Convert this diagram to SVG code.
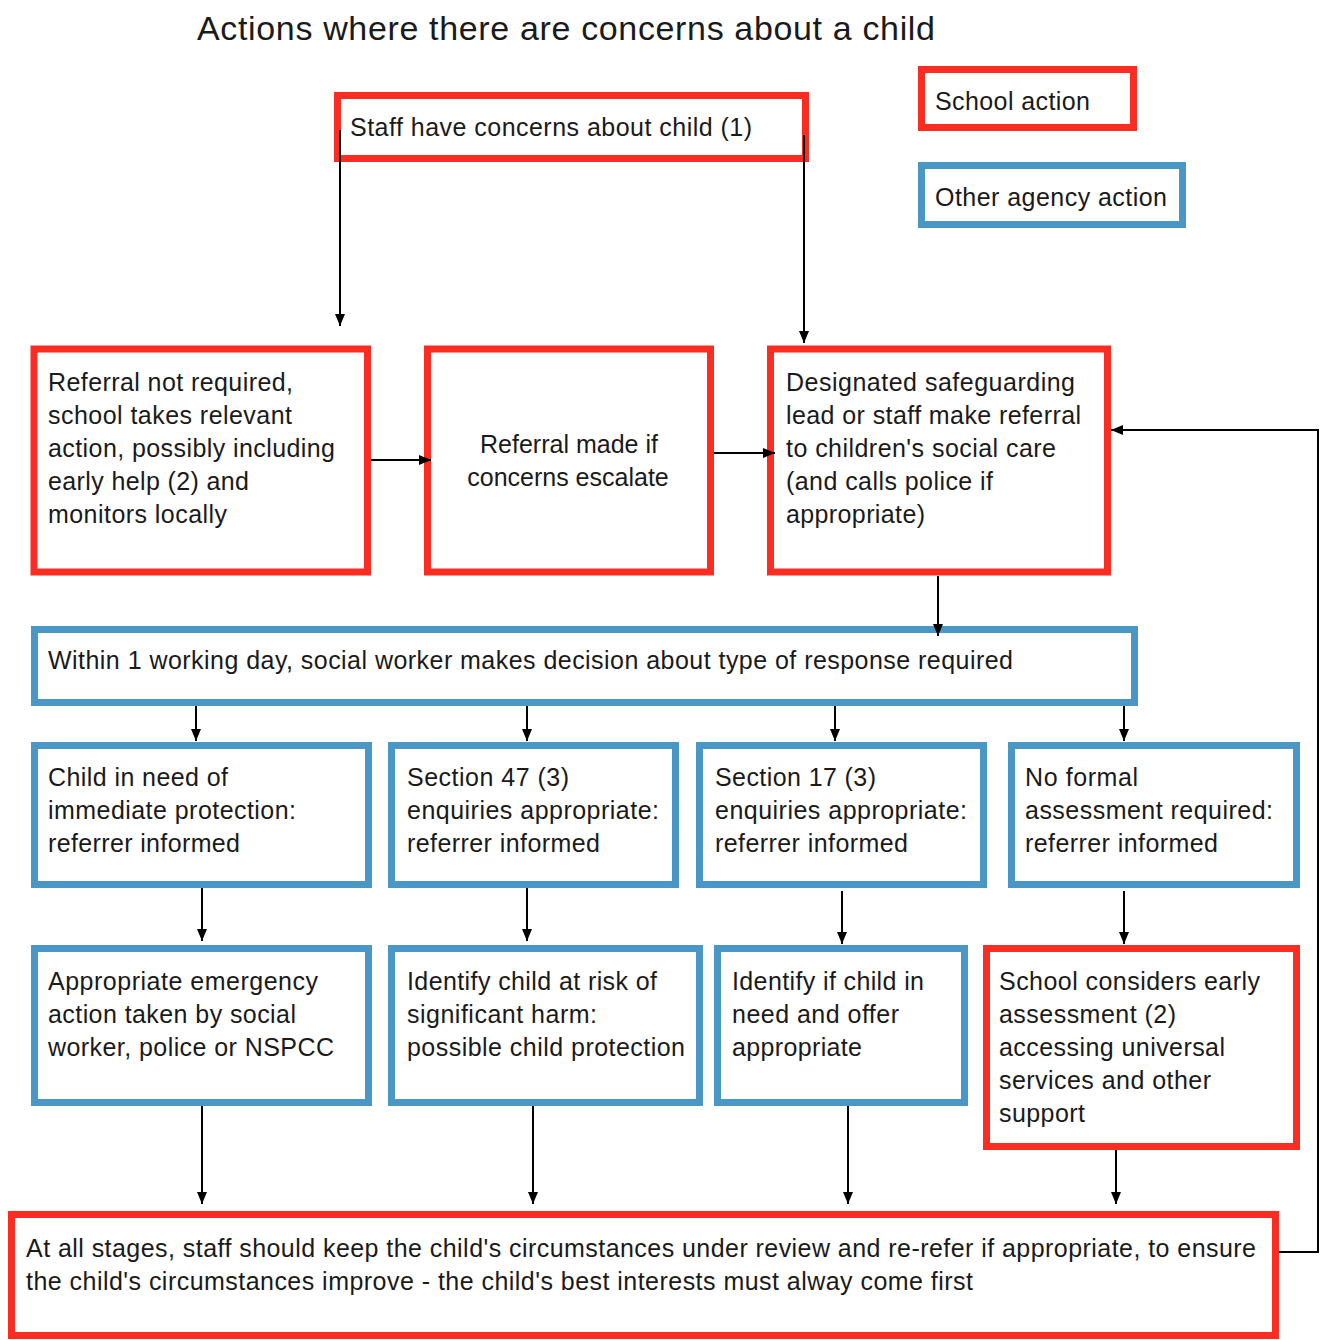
<svg xmlns="http://www.w3.org/2000/svg" width="1324" height="1340" viewBox="0 0 1324 1340">
<style>
.red{fill:#fff;stroke:#fb2c22;stroke-width:7}
.blue{fill:#fff;stroke:#4a97c6;stroke-width:7}
text{font-family:"Liberation Sans",Arial,sans-serif;font-size:25px;fill:#1a1a1a}
.title{font-size:34px}
.mid{text-anchor:middle}
.conn path{fill:none;stroke:#000;stroke-width:2}
</style>
<defs>
<marker id="ah" markerUnits="userSpaceOnUse" markerWidth="12" markerHeight="10" refX="12" refY="5" orient="auto">
<path d="M0,0 L12,5 L0,10 z" fill="#000"/>
</marker>
</defs>
<rect width="1324" height="1340" fill="#fff"/>
<text class="title" x="197" y="40" textLength="738">Actions where there are concerns about a child</text>

<g id="legend-school"><rect class="red" x="921.5" y="69.5" width="212" height="58"/><text x="935" y="110" textLength="155">School action</text></g>
<g id="legend-agency"><rect class="blue" x="921.5" y="165.5" width="261" height="59"/><text x="935" y="206" textLength="232">Other agency action</text></g>

<g id="staff"><rect class="red" x="337.5" y="95.5" width="468" height="63"/><text x="350" y="136" textLength="402">Staff have concerns about child (1)</text></g>

<g id="referral-not-required"><rect class="red" x="34" y="349" width="333.5" height="223"/>
<text x="48" y="391" textLength="245">Referral not required,</text>
<text x="48" y="424" textLength="244">school takes relevant</text>
<text x="48" y="457" textLength="287">action, possibly including</text>
<text x="48" y="490" textLength="201">early help (2) and</text>
<text x="48" y="523" textLength="179">monitors locally</text></g>

<g id="referral-made"><rect class="red" x="427.5" y="349" width="283" height="223"/>
<text class="mid" x="569" y="453">Referral made if</text>
<text class="mid" x="568" y="486">concerns escalate</text></g>

<g id="dsl"><rect class="red" x="770.5" y="349" width="337" height="223"/>
<text x="786" y="391" textLength="289">Designated safeguarding</text>
<text x="786" y="424" textLength="295">lead or staff make referral</text>
<text x="786" y="457" textLength="270">to children's social care</text>
<text x="786" y="490" textLength="207">(and calls police if</text>
<text x="786" y="523" textLength="139">appropriate)</text></g>

<g id="within"><rect class="blue" x="34.5" y="629.5" width="1100" height="73"/>
<text x="48" y="669" textLength="965">Within 1 working day, social worker makes decision about type of response required</text></g>

<g id="immediate"><rect class="blue" x="34.5" y="745.5" width="334" height="139"/>
<text x="48" y="786" textLength="180">Child in need of</text>
<text x="48" y="819" textLength="248">immediate protection:</text>
<text x="48" y="852" textLength="192">referrer informed</text></g>

<g id="s47"><rect class="blue" x="391.5" y="745.5" width="284" height="139"/>
<text x="407" y="786" textLength="162">Section 47 (3)</text>
<text x="407" y="819" textLength="252">enquiries appropriate:</text>
<text x="407" y="852" textLength="193">referrer informed</text></g>

<g id="s17"><rect class="blue" x="699.5" y="745.5" width="284" height="139"/>
<text x="715" y="786" textLength="161">Section 17 (3)</text>
<text x="715" y="819" textLength="252">enquiries appropriate:</text>
<text x="715" y="852" textLength="193">referrer informed</text></g>

<g id="no-formal"><rect class="blue" x="1011.5" y="745.5" width="285" height="139"/>
<text x="1025" y="786" textLength="113">No formal</text>
<text x="1025" y="819" textLength="248">assessment required:</text>
<text x="1025" y="852" textLength="193">referrer informed</text></g>

<g id="emergency"><rect class="blue" x="34.5" y="948.5" width="334" height="154"/>
<text x="48" y="990" textLength="270">Appropriate emergency</text>
<text x="48" y="1023" textLength="248">action taken by social</text>
<text x="48" y="1056" textLength="286">worker, police or NSPCC</text></g>

<g id="risk"><rect class="blue" x="391.5" y="948.5" width="308" height="154"/>
<text x="407" y="990" textLength="250">Identify child at risk of</text>
<text x="407" y="1023" textLength="190">significant harm:</text>
<text x="407" y="1056" textLength="278">possible child protection</text></g>

<g id="in-need"><rect class="blue" x="717.5" y="948.5" width="247" height="154"/>
<text x="732" y="990" textLength="192">Identify if child in</text>
<text x="732" y="1023" textLength="167">need and offer</text>
<text x="732" y="1056" textLength="130">appropriate</text></g>

<g id="early"><rect class="red" x="986.5" y="948.5" width="310" height="198"/>
<text x="999" y="990" textLength="261">School considers early</text>
<text x="999" y="1023" textLength="177">assessment (2)</text>
<text x="999" y="1056" textLength="226">accessing universal</text>
<text x="999" y="1089" textLength="212">services and other</text>
<text x="999" y="1122" textLength="86">support</text></g>

<g id="review"><rect class="red" x="11.5" y="1214.5" width="1264" height="121"/>
<text x="26" y="1257" textLength="1230">At all stages, staff should keep the child's circumstances under review and re-refer if appropriate, to ensure</text>
<text x="26" y="1290" textLength="947">the child's circumstances improve - the child's best interests must alway come first</text></g>

<g id="connectors" class="conn">
<path d="M340,130 V326" marker-end="url(#ah)"/>
<path d="M804,135 V343" marker-end="url(#ah)"/>
<path d="M371,460 H431" marker-end="url(#ah)"/>
<path d="M714,453 H775" marker-end="url(#ah)"/>
<path d="M938,576 V636" marker-end="url(#ah)"/>
<path d="M196,706 V741" marker-end="url(#ah)"/>
<path d="M527,706 V741" marker-end="url(#ah)"/>
<path d="M835,706 V741" marker-end="url(#ah)"/>
<path d="M1124,706 V741" marker-end="url(#ah)"/>
<path d="M202,888 V941" marker-end="url(#ah)"/>
<path d="M527,888 V941" marker-end="url(#ah)"/>
<path d="M842,891 V944" marker-end="url(#ah)"/>
<path d="M1124,891 V944" marker-end="url(#ah)"/>
<path d="M202,1106 V1204" marker-end="url(#ah)"/>
<path d="M533,1106 V1204" marker-end="url(#ah)"/>
<path d="M848,1106 V1204" marker-end="url(#ah)"/>
<path d="M1116,1150 V1204" marker-end="url(#ah)"/>
<path d="M1279,1252 H1318 V430 H1111" marker-end="url(#ah)"/>
</g>
</svg>
